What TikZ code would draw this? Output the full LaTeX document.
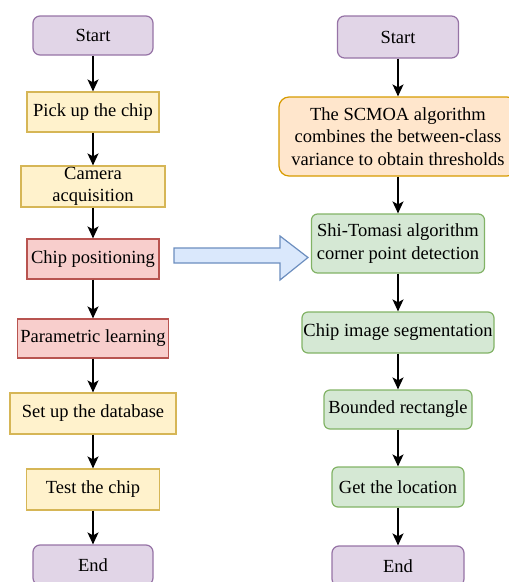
\documentclass[tikz,border=0pt]{standalone}
\usepackage{fontspec}
\setmainfont{Liberation Serif}
\usetikzlibrary{arrows.meta}
\definecolor{purpfill}{HTML}{E1D5E7}
\definecolor{purpdraw}{HTML}{9673A6}
\definecolor{yelfill}{HTML}{FFF2CC}
\definecolor{yeldraw}{HTML}{D6B656}
\definecolor{redfill}{HTML}{F8CECC}
\definecolor{reddraw}{HTML}{B85450}
\definecolor{grnfill}{HTML}{D5E8D4}
\definecolor{grndraw}{HTML}{82B366}
\definecolor{orgfill}{HTML}{FFE6CC}
\definecolor{orgdraw}{HTML}{D79B00}
\definecolor{blufill}{HTML}{DAE8FC}
\definecolor{bludraw}{HTML}{6C8EBF}
\begin{document}
\begin{tikzpicture}[x=1pt,y=-1pt,
  box/.style={draw, line width=1.2pt, inner sep=0pt, align=center, text=black,
    font=\fontsize{18.5}{22.5}\selectfont},
  purpbox/.style={box, fill=purpfill, draw=purpdraw, rounded corners=7pt},
  yelbox/.style={box, fill=yelfill, draw=yeldraw},
  redbox/.style={box, fill=redfill, draw=reddraw},
  grnbox/.style={box, fill=grnfill, draw=grndraw, rounded corners=6pt},
  orgbox/.style={box, fill=orgfill, draw=orgdraw, rounded corners=10pt},
  arr/.style={-{Stealth[length=12pt,width=11pt,inset=3pt]}, line width=1.5pt, black}
]
\useasboundingbox (0,0) rectangle (509,582);
\clip (0,0) rectangle (509,582);

% left column
\node[purpbox, minimum width=120pt, minimum height=39pt] (ls) at (93,35.5) {Start};
\node[yelbox, minimum width=132pt, minimum height=40pt] (pick) at (93,112) {Pick up the chip};
\node[yelbox, minimum width=144pt, minimum height=41pt] (cam) at (93,186.5) {Camera\\acquisition};
\node[redbox, minimum width=132pt, minimum height=40pt] (pos) at (93,259) {Chip positioning};
\node[redbox, minimum width=151pt, minimum height=39pt] (par) at (93,338.5) {Parametric learning};
\node[yelbox, minimum width=166pt, minimum height=41pt] (db) at (93,413.5) {Set up the database};
\node[yelbox, minimum width=133pt, minimum height=41pt] (test) at (93,489.5) {Test the chip};
\node[purpbox, minimum width=120pt, minimum height=40pt] (le) at (93,565) {End};

\draw[arr] (ls) -- (pick);
\draw[arr] (pick) -- (cam);
\draw[arr] (cam) -- (pos);
\draw[arr] (pos) -- (par);
\draw[arr] (par) -- (db);
\draw[arr] (db) -- (test);
\draw[arr] (test) -- (le);

% right column
\node[purpbox, minimum width=121pt, minimum height=42pt] (rs) at (398,37) {Start};
\node[orgbox, minimum width=238pt, minimum height=79pt] (sc) at (398,136.5)
  {The SCMOA algorithm\\combines the between-class\\variance to obtain thresholds};
\node[grnbox, minimum width=173pt, minimum height=59pt] (st) at (398,243.5)
  {Shi-Tomasi algorithm\\corner point detection};
\node[grnbox, minimum width=192pt, minimum height=41pt] (seg) at (398,332.5) {Chip image segmentation};
\node[grnbox, minimum width=148pt, minimum height=39pt] (br) at (398,409.5) {Bounded rectangle};
\node[grnbox, minimum width=132pt, minimum height=40pt] (gl) at (398,487) {Get the location};
\node[purpbox, minimum width=132pt, minimum height=40pt] (re) at (398,566) {End};

\draw[arr] (rs) -- (sc);
\draw[arr] (sc) -- (st);
\draw[arr] (st) -- (seg);
\draw[arr] (seg) -- (br);
\draw[arr] (br) -- (gl);
\draw[arr] (gl) -- (re);

% big block arrow
\draw[fill=blufill, draw=bludraw, line width=1.2pt, line join=miter]
  (174,248) -- (280,248) -- (280,236) -- (308,257.5) -- (280,280) -- (280,263) -- (174,263) -- cycle;
\end{tikzpicture}
\end{document}
